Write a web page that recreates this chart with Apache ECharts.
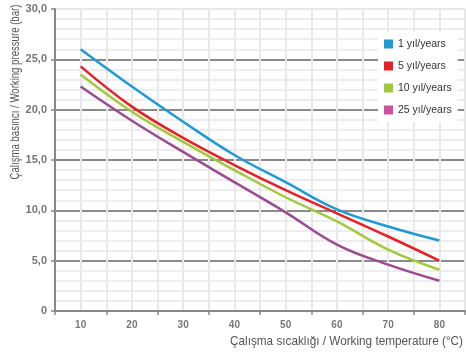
<!DOCTYPE html>
<html>
<head>
<meta charset="utf-8">
<script src="https://cdn.jsdelivr.net/npm/echarts@6/dist/echarts.min.js"></script>
<style>
  html, body { margin: 0; padding: 0; background: #fff; }
  #chart { width: 466px; height: 354px; }
</style>
</head>
<body>
<div id="chart"></div>
<script>
// temperature (°C) and working pressure (bar) per service life
const temperatures = [10, 20, 30, 40, 50, 60, 70, 80]
const pressure1 = [26.0, 22.3, 18.8, 15.5, 12.8, 10.1, 8.4, 7.0]
const pressure5 = [24.3, 20.3, 17.2, 14.5, 12.0, 9.7, 7.4, 5.0]
const pressure10 = [23.5, 19.8, 16.8, 14.0, 11.3, 8.9, 6.1, 4.1]
const pressure25 = [22.3, 18.9, 15.8, 12.8, 9.8, 6.6, 4.6, 3.0]

const seriesNames = ['1 yıl/years', '5 yıl/years', '10 yıl/years', '25 yıl/years']
const lineColors = ['#1e9bd7', '#e52027', '#a2c83c', '#9c4a93']
const iconColors = ['#1e9bd7', '#e52027', '#a2c83c', '#d050a0']

const chart = echarts.init(document.getElementById('chart'))

const toPairs = values => temperatures.map((t, i) => [t, values[i]])

const makeSeries = (values, idx) => ({
  name: seriesNames[idx],
  type: 'line',
  smooth: 0.4,
  symbol: 'none',
  data: toPairs(values),
  lineStyle: { color: lineColors[idx], width: 2.5 },
  itemStyle: { color: iconColors[idx] },
  z: 5
})

chart.setOption({
  animation: false,
  grid: {
    left: 55,
    right: 1,
    top: 9,
    bottom: 43
  },
  legend: {
    orient: 'vertical',
    left: 378,
    top: 32,
    padding: [5, 6, 5, 6],
    backgroundColor: '#fff',
    itemWidth: 9,
    itemHeight: 9,
    itemGap: 8,
    icon: 'rect',
    textStyle: {
      fontFamily: 'Liberation Sans',
      fontSize: 10.5,
      color: '#333',
      lineHeight: 14
    },
    data: seriesNames
  },
  xAxis: [
    {
      // labels and light grid lines every 5 °C
      type: 'value',
      min: 5,
      max: 85,
      interval: 5,
      axisLine: { lineStyle: { color: '#888', width: 2 } },
      axisTick: { show: false },
      axisLabel: {
        margin: 9,
        color: '#777',
        fontFamily: 'Liberation Sans',
        fontWeight: 'bold',
        fontSize: 10,
        showMinLabel: false,
        showMaxLabel: false,
        formatter: v => (v % 10 === 0 ? String(v) : '')
      },
      splitLine: { show: true, lineStyle: { color: '#e8e8e8', width: 2 } }
    },
    {
      // tick marks between the labels
      type: 'value',
      position: 'bottom',
      min: 5,
      max: 85,
      interval: 10,
      axisLine: { show: false },
      axisTick: { show: true, length: 4, lineStyle: { color: '#888', width: 1.5 } },
      axisLabel: { show: false },
      splitLine: { show: false }
    }
  ],
  yAxis: {
    type: 'value',
    min: 0,
    max: 30,
    interval: 5,
    axisLine: { show: true, lineStyle: { color: '#888', width: 2 } },
    axisTick: { show: true, length: 4, lineStyle: { color: '#888', width: 1.5 } },
    axisLabel: {
      margin: 8,
      color: '#777',
      fontFamily: 'Liberation Sans',
      fontWeight: 'bold',
      fontSize: 11,
      formatter: v => (v === 0 ? '0' : v.toFixed(1).replace('.', ','))
    },
    splitLine: {
      show: true,
      lineStyle: {
        color: ['#8a8a8a', '#8a8a8a', '#8a8a8a', '#8a8a8a', '#8a8a8a', '#8a8a8a', '#e8e8e8'],
        width: 2
      }
    },
    minorTick: { show: false, splitNumber: 5 },
    minorSplitLine: { show: true, lineStyle: { color: '#e8e8e8', width: 1.5 } }
  },
  graphic: [
    {
      type: 'text',
      x: 16,
      y: 92,
      rotation: Math.PI / 2,
      scaleX: 0.8,
      style: {
        text: 'Çalışma basıncı / Working pressure (bar)',
        fill: '#555',
        font: '12px "Liberation Sans", sans-serif',
        align: 'center',
        verticalAlign: 'middle'
      }
    },
    {
      type: 'text',
      x: 463,
      y: 341,
      scaleX: 0.87,
      style: {
        text: 'Çalışma sıcaklığı / Working temperature (°C)',
        fill: '#555',
        font: '13.5px "Liberation Sans", sans-serif',
        align: 'right',
        verticalAlign: 'middle'
      }
    }
  ],
  series: [
    makeSeries(pressure1, 0),
    makeSeries(pressure5, 1),
    makeSeries(pressure10, 2),
    makeSeries(pressure25, 3)
  ]
})
</script>
</body>
</html>
